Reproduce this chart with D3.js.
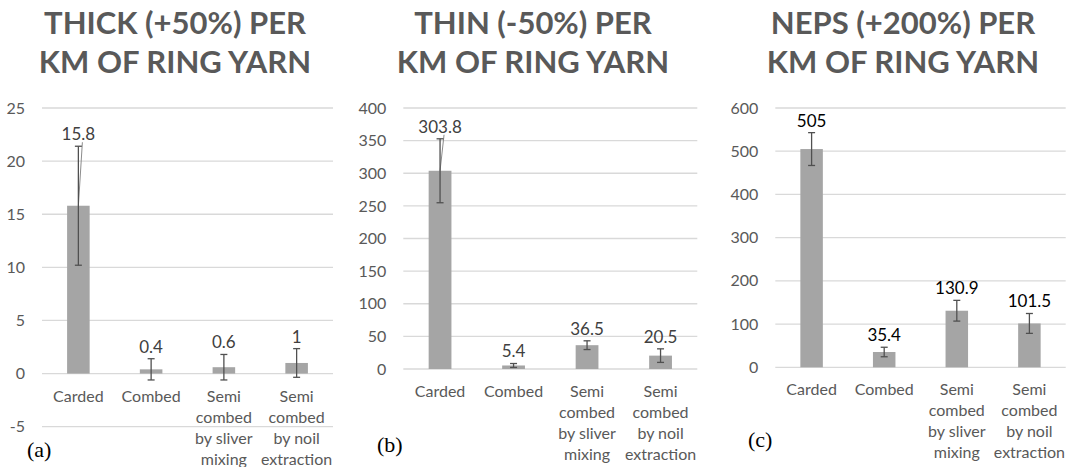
<!DOCTYPE html>
<html>
<head>
<meta charset="utf-8">
<script src="https://cdn.jsdelivr.net/npm/d3@7"></script>
<style>
  body { margin: 0; background: #fff; }
  svg { display: block; }
</style>
</head>
<body>
<svg id="canvas" width="1073" height="467"></svg>
<script>
// categories, shared by the three charts
let categories = [
  ["Carded"],
  ["Combed"],
  ["Semi", "combed", "by sliver", "mixing"],
  ["Semi", "combed", "by noil", "extraction"]
];

// thick places (+50%)
let thickValues = [15.8, 0.4, 0.6, 1];
let thickErrors = [5.6, 1.0, 1.2, 1.35];
let thickTicks = [-5, 0, 5, 10, 15, 20, 25];

// thin places (-50%)
let thinValues = [303.8, 5.4, 36.5, 20.5];
let thinErrors = [49, 3, 6.7, 10.4];
let thinTicks = [0, 50, 100, 150, 200, 250, 300, 350, 400];

// neps (+200%)
let nepsValues = [505, 35.4, 130.9, 101.5];
let nepsErrors = [38, 11, 24, 23];
let nepsTicks = [0, 100, 200, 300, 400, 500, 600];

let titles = [
  ["THICK (+50%) PER", "KM OF RING YARN"],
  ["THIN (-50%) PER", "KM OF RING YARN"],
  ["NEPS (+200%) PER", "KM OF RING YARN"]
];
let panelNames = ["(a)", "(b)", "(c)"];

let font = "Lato, 'Open Sans', sans-serif";
let canvas = d3.select("#canvas");

// layout of each panel
let panels = [
  { values: thickValues, errors: thickErrors, ticks: thickTicks,
    left: 42, right: 333, top: 108, bottom: 426.7, titleX: 175,
    nameX: 27, nameY: 457, labelColor: "#404040", leader: true },
  { values: thinValues, errors: thinErrors, ticks: thinTicks,
    left: 403.3, right: 697.3, top: 108, bottom: 369, titleX: 533,
    nameX: 377, nameY: 452, labelColor: "#404040", leader: true },
  { values: nepsValues, errors: nepsErrors, ticks: nepsTicks,
    left: 775.3, right: 1065.7, top: 108, bottom: 367.3, titleX: 903,
    nameX: 748, nameY: 447, labelColor: "#000", leader: false }
];

let drawPanel = (p, i) => {
  let g = canvas.append("g");

  let x = d3.scaleBand()
    .domain(d3.range(categories.length))
    .range([p.left, p.right])
    .paddingInner(0.69)
    .paddingOuter(0.345);

  let y = d3.scaleLinear()
    .domain(d3.extent(p.ticks))
    .range([p.bottom, p.top]);

  // gridlines
  g.selectAll(".grid")
    .data(p.ticks)
    .enter()
    .append("line")
    .attr("x1", p.left)
    .attr("x2", p.right)
    .attr("y1", (d) => y(d))
    .attr("y2", (d) => y(d))
    .attr("stroke", "#d9d9d9")
    .attr("stroke-width", 1.3);

  // y axis labels (plain hyphen for negatives, like Excel)
  let axis = d3.axisLeft(y)
    .tickValues(p.ticks)
    .tickFormat((d) => String(d))
    .tickSize(0)
    .tickPadding(17);
  let ax = g.append("g").attr("transform", "translate(" + p.left + ",0)").call(axis);
  ax.select(".domain").remove();
  ax.selectAll("text")
    .attr("font-family", font)
    .attr("font-size", 16)
    .attr("fill", "#595959");

  // bars
  g.selectAll(".bar")
    .data(p.values)
    .enter()
    .append("rect")
    .attr("x", (d, j) => x(j))
    .attr("width", x.bandwidth())
    .attr("y", (d) => y(Math.max(0, d)))
    .attr("height", (d) => Math.abs(y(d) - y(0)))
    .attr("fill", "#a5a5a5");

  let cx = (j) => x(j) + x.bandwidth() / 2;

  // leader line from the moved label
  if (p.leader) {
    g.append("line")
      .attr("x1", cx(0) + 4)
      .attr("y1", y(p.values[0] + p.errors[0]) - 4)
      .attr("x2", cx(0))
      .attr("y2", y(p.values[0]))
      .attr("stroke", "#8c8c8c")
      .attr("stroke-width", 1);
  }

  // error bars
  let eb = g.selectAll(".err")
    .data(p.values)
    .enter()
    .append("g")
    .attr("stroke", "#505050")
    .attr("stroke-width", 1.3);
  eb.append("line")
    .attr("x1", (d, j) => cx(j)).attr("x2", (d, j) => cx(j))
    .attr("y1", (d, j) => y(d + p.errors[j]))
    .attr("y2", (d, j) => y(d - p.errors[j]));
  eb.append("line")
    .attr("x1", (d, j) => cx(j) - 3.5).attr("x2", (d, j) => cx(j) + 3.5)
    .attr("y1", (d, j) => y(d + p.errors[j]))
    .attr("y2", (d, j) => y(d + p.errors[j]));
  eb.append("line")
    .attr("x1", (d, j) => cx(j) - 3.5).attr("x2", (d, j) => cx(j) + 3.5)
    .attr("y1", (d, j) => y(d - p.errors[j]))
    .attr("y2", (d, j) => y(d - p.errors[j]));

  // data labels
  g.selectAll(".lbl")
    .data(p.values)
    .enter()
    .append("text")
    .attr("x", (d, j) => cx(j))
    .attr("y", (d, j) => y(d + p.errors[j]) - 12)
    .attr("dy", "0.35em")
    .attr("text-anchor", "middle")
    .attr("font-family", font)
    .attr("font-size", 17)
    .attr("fill", p.labelColor)
    .text((d) => d);

  // category labels
  let cat = g.selectAll(".cat")
    .data(categories)
    .enter()
    .append("text")
    .attr("text-anchor", "middle")
    .attr("font-family", font)
    .attr("font-size", 16)
    .attr("fill", "#595959");
  cat.selectAll("tspan")
    .data((d, j) => d.map((t) => ({ t: t, j: j })))
    .enter()
    .append("tspan")
    .attr("x", (d) => cx(d.j))
    .attr("y", (d, k) => y(0) + 28 + k * 21)
    .text((d) => d.t);

  // title
  g.append("text")
    .attr("text-anchor", "middle")
    .attr("font-family", font)
    .attr("font-weight", "bold")
    .attr("font-size", 31)
    .attr("fill", "#595959")
    .selectAll("tspan")
    .data(titles[i])
    .enter()
    .append("tspan")
    .attr("x", p.titleX)
    .attr("y", (d, k) => 34 + k * 39)
    .text((d) => d);

  // panel name
  g.append("text")
    .attr("x", p.nameX)
    .attr("y", p.nameY)
    .attr("font-family", "'Liberation Serif', 'Times New Roman', serif")
    .attr("font-size", 22)
    .attr("fill", "#000")
    .text(panelNames[i]);
};

panels.forEach(drawPanel);
</script>
</body>
</html>
